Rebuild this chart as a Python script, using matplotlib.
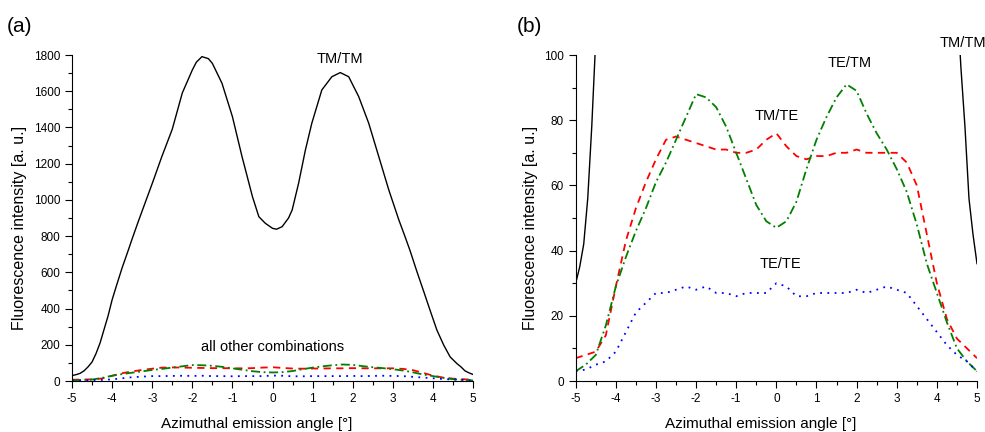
import numpy as np
import matplotlib.pyplot as plt
from matplotlib.ticker import MultipleLocator

plt.rcParams['font.family'] = ['Liberation Sans', 'DejaVu Sans']
plt.rcParams['axes.unicode_minus'] = False

# TM/TM (black)
tmtm_angle = [-5.0, -4.9, -4.8, -4.7, -4.6, -4.5, -4.4, -4.3, -4.2, -4.1, -4.0, -3.9,
              -3.75, -3.6, -3.5, -3.34, -3.0, -2.76, -2.5, -2.25, -2.0, -1.9, -1.76,
              -1.6, -1.5, -1.26, -1.0, -0.76, -0.5, -0.34, -0.18, 0.0, 0.1, 0.24, 0.4,
              0.49, 0.65, 0.82, 0.98, 1.23, 1.48, 1.69, 1.9, 2.15, 2.4, 2.65, 2.9,
              3.15, 3.3, 3.43, 3.6, 3.77, 3.93, 4.1, 4.27, 4.43, 4.6, 4.7, 4.8, 4.9, 5.0]
tmtm = [30, 35, 42, 56, 78, 105, 152, 210, 285, 360, 448, 520,
        625, 720, 785, 885, 1090, 1239, 1390, 1590, 1717, 1760, 1791,
        1780, 1754, 1644, 1460, 1239, 1018, 907, 871, 843, 838, 852, 900,
        944, 1091, 1275, 1423, 1607, 1680, 1703, 1680, 1570, 1423, 1239, 1055,
        890, 800, 720, 605, 495, 390, 281, 198, 133, 96, 78, 56, 45, 36]

# other polarisation combinations, sampled every 0.25 deg
angle = [-5.0, -4.75, -4.5, -4.25, -4.0, -3.75, -3.5, -3.25, -3.0, -2.75, -2.5,
         -2.25, -2.0, -1.75, -1.5, -1.25, -1.0, -0.75, -0.5, -0.25, 0.0,
         0.25, 0.5, 0.75, 1.0, 1.25, 1.5, 1.75, 2.0, 2.25, 2.5,
         2.75, 3.0, 3.25, 3.5, 3.75, 4.0, 4.25, 4.5, 4.75, 5.0]
tmte = [7, 8, 9, 14, 29, 43, 53, 61, 68, 74, 75,
        74, 73, 72, 71, 71, 70, 70, 71, 74, 76,
        72, 69, 68, 69, 69, 70, 70, 71, 70, 70,
        70, 70, 67, 60, 45, 30, 19, 13, 10, 7]
tetm = [3, 5, 8, 17, 29, 38, 46, 53, 61, 67, 74,
        81, 88, 87, 84, 78, 70, 62, 54, 49, 47,
        49, 55, 65, 74, 81, 87, 91, 89, 82, 76,
        71, 65, 58, 48, 36, 27, 18, 10, 6, 3]
tete = [3, 3.5, 5, 6, 9, 15, 21, 24, 27, 27, 28,
        29, 28, 29, 27, 27, 26, 27, 27, 27, 30,
        29, 26, 26, 27, 27, 27, 27, 28, 27, 28,
        29, 28, 27, 23, 19, 15, 11, 8, 6, 3]

W, H = 985, 432
fig = plt.figure(figsize=(W / 100, H / 100), dpi=100)
ax_a = fig.add_axes([72 / W, 51 / H, 401 / W, 326 / H])
ax_b = fig.add_axes([575.7 / W, 51 / H, 401.3 / W, 326 / H])


def draw_series(ax):
    ax.plot(tmtm_angle, tmtm, color="black", lw=1.0)
    ax.plot(angle, tmte, color="red", lw=1.3, linestyle=(0, (4, 3)))
    ax.plot(angle, tetm, color="green", lw=1.3, linestyle=(0, (5, 2, 1, 2)))
    ax.plot(angle, tete, color="blue", lw=1.3, linestyle=(0, (1, 3)))


def style_axes(ax, ymax, ymajor, ylab_x):
    ax.set_xlim(-5, 5)
    ax.set_ylim(0, ymax)
    ax.spines["top"].set_visible(False)
    ax.spines["right"].set_visible(False)
    ax.xaxis.set_major_locator(MultipleLocator(1))
    ax.xaxis.set_minor_locator(MultipleLocator(0.5))
    ax.yaxis.set_major_locator(MultipleLocator(ymajor))
    ax.yaxis.set_minor_locator(MultipleLocator(ymajor / 2))
    ax.tick_params(which="major", direction="out", length=5, width=0.8, labelsize=8.5)
    ax.tick_params(which="minor", direction="out", length=3, width=0.8)
    ax.set_xlabel("Azimuthal emission angle [°]", fontsize=11)
    ax.set_ylabel("Fluorescence intensity [a. u.]", fontsize=11.5)
    ax.xaxis.set_label_coords(0.46, -0.11)
    ax.yaxis.set_label_coords(ylab_x, 0.47)


# (a) full scale
draw_series(ax_a)
style_axes(ax_a, 1800, 200, -0.112)
ax_a.text(1.68, 1780, "TM/TM", ha="center", va="center", fontsize=10.5)
ax_a.text(0.0, 188, "all other combinations", ha="center", va="center", fontsize=10.5)

# (b) zoom on the weak combinations
draw_series(ax_b)
style_axes(ax_b, 100, 20, -0.094)
ax_b.text(1.83, 97.5, "TE/TM", ha="center", va="center", fontsize=10.5)
ax_b.text(0.0, 81.3, "TM/TE", ha="center", va="center", fontsize=10.5)
ax_b.text(0.11, 35.9, "TE/TE", ha="center", va="center", fontsize=10.5)
ax_b.text(4.08, 103.7, "TM/TM", ha="left", va="center", fontsize=10.5, clip_on=False)

fig.text(7 / W, 1 - 26 / H, "(a)", ha="left", va="center", fontsize=15)
fig.text(517 / W, 1 - 26 / H, "(b)", ha="left", va="center", fontsize=15)

fig.savefig("out.png", dpi=100)
